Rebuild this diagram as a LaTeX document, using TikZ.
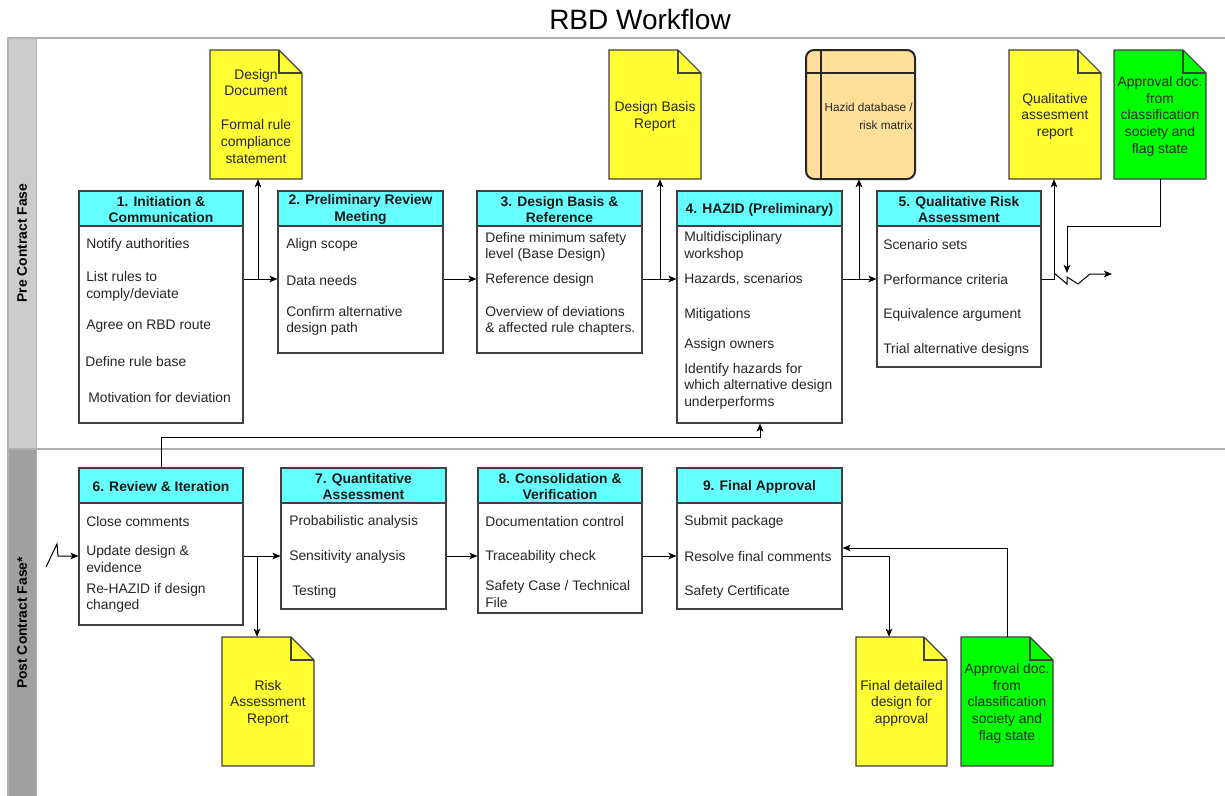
\documentclass[tikz,border=0pt]{standalone}
\usepackage{fontspec}
\setmainfont{Liberation Sans}
\usetikzlibrary{arrows.meta,fit,calc}

\definecolor{hdrcyan}{HTML}{66FFFF}
\definecolor{docyellow}{HTML}{FFFF33}
\definecolor{docgreen}{HTML}{00FF00}
\definecolor{dbfill}{HTML}{FFDF9A}
\definecolor{laneA}{HTML}{CCCCCC}
\definecolor{laneB}{HTML}{A0A0A0}
\definecolor{poolline}{HTML}{B0B0B0}
\definecolor{boxline}{HTML}{404040}
\definecolor{inktext}{HTML}{262626}

\tikzset{
  every node/.style={text=inktext},
  stepbody/.style={draw=boxline, fill=white, line width=0.8pt, inner sep=0pt},
  stephead/.style={draw=boxline, fill=hdrcyan, line width=0.8pt, inner sep=0pt},
  headtext/.style={inner sep=0pt, align=center, text=black!90, yshift=-0.8pt,
    font=\bfseries\fontsize{10.4}{12.4}\selectfont},
  item/.style={anchor=west, inner sep=0pt, align=left, yshift=-1.1pt,
    font=\fontsize{10.4}{12.4}\selectfont},
  doctext/.style={inner sep=0pt, align=center, yshift=-1.3pt,
    font=\fontsize{10.4}{12.6}\selectfont},
  docshape/.style={draw=boxline, line width=0.8pt},
  lanelabel/.style={rotate=90, inner sep=0pt, text=black,
    font=\bfseries\fontsize{10.4}{12.4}\selectfont},
  arr/.style={draw=black, line width=0.75pt,
    -{Stealth[length=6pt,width=5pt,inset=1.5pt]}},
}

% step box: name, x1, y1, x2, header bottom, box bottom, title
\newcommand\stepbox[7]{%
  \node[stepbody, fit={(#2,#3) (#4,#6)}] (#1) {};
  \node[stephead, fit={(#2,#3) (#4,#5)}] (#1h) {};
  \node[headtext] (#1t) at (#1h.center) {#7};
}
% document with folded corner: name, x1, y1, x2, y2, fill, text
\newcommand\docnote[7]{%
  \filldraw[docshape, fill=#6] (#2,#3) -- ({#4-23},#3) -- (#4,{#3+23}) -- (#4,#5) -- (#2,#5) -- cycle;
  \draw[docshape] ({#4-23},#3) -- ({#4-23},{#3+23}) -- (#4,{#3+23});
  \node[fit={(#2,#3) (#4,#5)}, inner sep=0pt] (#1) {};
  \node[doctext] (#1t) at (#1.center) {#7};
}

\begin{document}
\begin{tikzpicture}[x=0.75pt,y=-0.75pt]
\useasboundingbox (0,0) rectangle (1225,796);

% title
\node[text=black, font=\fontsize{21}{24}\selectfont] (title) at (640,19) {RBD Workflow};

% pool and lanes
\fill[laneA] (8,38) rectangle (36,449);
\fill[laneB] (8,449) rectangle (36,800);
\draw[poolline, line width=0.8pt] (8,800) -- (8,38) -- (1230,38);
\draw[poolline, line width=0.8pt] (8,449) -- (1230,449);
\draw[poolline, line width=0.6pt] (36,38) -- (36,800);
\node[lanelabel] (laneA) at (22,243) {Pre Contract Fase};
\node[lanelabel] (laneB) at (22,623) {Post Contract Fase*};

% ---------- pre contract steps ----------
\stepbox{b1}{79}{191}{243}{226}{423}{1. Initiation \&\\Communication}
\node[item] (b1a) at (86,243) {Notify authorities};
\node[item] (b1b) at (86,285) {List rules to\\comply/deviate};
\node[item] (b1c) at (86,325) {Agree on RBD route};
\node[item] (b1d) at (85,360) {Define rule base};
\node[item] (b1e) at (88,396) {Motivation for deviation};

\stepbox{b2}{278}{191}{443}{226}{353}{2. Preliminary Review\\Meeting}
\node[item] (b2a) at (286,243) {Align scope};
\node[item] (b2b) at (286,279) {Data needs};
\node[item] (b2c) at (286,319.5) {Confirm alternative\\design path};

\stepbox{b3}{477}{191}{642}{226}{353}{3. Design Basis \&\\Reference}
\node[item] (b3a) at (485,245.5) {Define minimum safety\\level (Base Design)};
\node[item] (b3b) at (485,278) {Reference design};
\node[item] (b3c) at (485,319.5) {Overview of deviations\\\& affected rule chapters.};

\stepbox{b4}{677}{191}{842}{226}{423}{4. HAZID (Preliminary)}
\node[item] (b4a) at (684,245) {Multidisciplinary\\workshop};
\node[item] (b4b) at (684,278) {Hazards, scenarios};
\node[item] (b4c) at (684,313) {Mitigations};
\node[item] (b4d) at (684,343) {Assign owners};
\node[item] (b4e) at (684,384.5) {Identify hazards for\\which alternative design\\underperforms};

\stepbox{b5}{877}{191}{1041}{226}{367}{5. Qualitative Risk\\Assessment}
\node[item] (b5a) at (883,243) {Scenario sets};
\node[item] (b5b) at (883,278) {Performance criteria};
\node[item] (b5c) at (883,313) {Equivalence argument};
\node[item] (b5d) at (883,348) {Trial alternative designs};

% ---------- post contract steps ----------
\stepbox{b6}{79}{468}{243}{503}{625}{6. Review \& Iteration}
\node[item] (b6a) at (86,520) {Close comments};
\node[item] (b6b) at (86,557.5) {Update design \&\\evidence};
\node[item] (b6c) at (86,596.5) {Re-HAZID if design\\changed};

\stepbox{b7}{281}{468}{446}{503}{609}{7. Quantitative\\Assessment}
\node[item] (b7a) at (289,520) {Probabilistic analysis};
\node[item] (b7b) at (289,555) {Sensitivity analysis};
\node[item] (b7c) at (292,590) {Testing};

\stepbox{b8}{478}{468}{642}{503}{613}{8. Consolidation \&\\Verification}
\node[item] (b8a) at (485,520) {Documentation control};
\node[item] (b8b) at (485,555) {Traceability check};
\node[item] (b8c) at (485,592.5) {Safety Case / Technical\\File};

\stepbox{b9}{677}{468}{842}{503}{609}{9. Final Approval}
\node[item] (b9a) at (684,520) {Submit package};
\node[item] (b9b) at (684,555) {Resolve final comments};
\node[item] (b9c) at (684,590) {Safety Certificate};

% ---------- documents ----------
\docnote{docA}{210}{50}{302}{179}{docyellow}{Design\\Document\\~\\Formal rule\\compliance\\statement}
\docnote{docB}{609}{50}{701}{179}{docyellow}{Design Basis\\Report}
\docnote{docQ}{1009}{50}{1101}{179}{docyellow}{Qualitative\\assesment\\report}
\docnote{docG}{1114}{50}{1206}{179}{docgreen}{Approval doc.\\from\\classification\\society and\\flag state}
\docnote{docR}{222}{637}{314}{766}{docyellow}{Risk\\Assessment\\Report}
\docnote{docF}{856}{637}{947}{766}{docyellow}{Final detailed\\design for\\approval}
\docnote{docH}{961}{637}{1053}{766}{docgreen}{Approval doc.\\from\\classification\\society and\\flag state}

% hazid database (internal storage symbol)
\filldraw[fill=dbfill, draw=black!85, line width=1.5pt, rounded corners=6pt] (806,50) rectangle (915,179);
\draw[black!85, line width=1.5pt] (821,50) -- (821,179) (806,73) -- (915,73);
\node[fit={(806,50) (915,179)}, inner sep=0pt] (hz) {};
\node[anchor=east, align=right, inner sep=0pt, font=\fontsize{8.8}{13.5}\selectfont] (hzt) at (913,116) {Hazid database /\\risk matrix};

% ---------- connectors, pre contract ----------
\coordinate (j1) at (258,279);
\draw[arr] (b1.east |- j1) -- (b2.west |- j1);
\draw[arr] (j1) -- (j1 |- docA.south);

\draw[arr] (b2.east |- 0,279) -- (b3.west |- 0,279);

\coordinate (j3) at (660,279);
\draw[arr] (b3.east |- j3) -- (b4.west |- j3);
\draw[arr] (j3) -- (j3 |- docB.south);

\coordinate (j4) at (859,279);
\draw[arr] (b4.east |- j4) -- (b5.west |- j4);
\draw[arr] (j4) -- (j4 |- hz.south);

\coordinate (j5) at (1054,279);
\draw[arr] (b5.east |- j5) -| (j5 |- docQ.south);
% off-page continuation
\coordinate (brk) at (1112,274);
\draw[arr] (1054,273) -- (1067,284) -- (1067,277) -- (1078,284) -- (1090,274) -- (brk);
\draw[arr] (docG.south) |- (1067,226) -- (1067,273);

% feedback from review to HAZID
\coordinate (fb) at (161,437);
\draw[arr] (b6.north -| fb) -- (fb) -| (b4.south -| 760,0);

% ---------- connectors, post contract ----------
\coordinate (in6) at (46,567);
\draw[arr] (in6) -- (57,544) -- (58,556) -- (b6.west |- 0,556);

\coordinate (j6) at (257,556);
\draw[arr] (b6.east |- j6) -- (b7.west |- j6);
\draw[arr] (j6) -- (j6 |- docR.north);

\draw[arr] (b7.east |- 0,556) -- (b8.west |- 0,556);
\draw[arr] (b8.east |- 0,556) -- (b9.west |- 0,556);

\draw[arr] (b9.east |- 0,556) -| (docF.north -| 889,0);
\draw[arr] (docH.north) |- (b9.east |- 0,548);

\end{tikzpicture}
\end{document}
